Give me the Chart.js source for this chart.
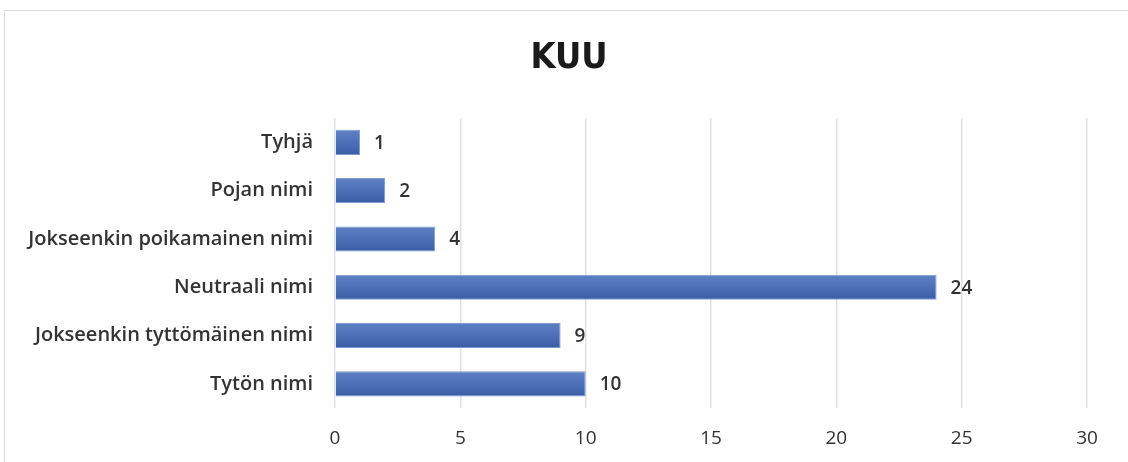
<!DOCTYPE html>
<html>
<head>
<meta charset="utf-8">
<script src="https://cdn.jsdelivr.net/npm/chart.js@4"></script>
<style>
  html, body { margin: 0; padding: 0; background: #fff; }
  #wrap { position: relative; width: 1128px; height: 462px; overflow: hidden; }
  #frame { position: absolute; left: 4px; top: 10px; width: 1140px; height: 470px; border: 1px solid #d9dce1; }
  canvas { position: absolute; left: 0; top: 0; }
</style>
</head>
<body>
<div id="wrap">
  <div id="frame"></div>
  <canvas id="chart" width="1128" height="462"></canvas>
</div>
<script>
const categories = [
  'Tyhjä',
  'Pojan nimi',
  'Jokseenkin poikamainen nimi',
  'Neutraali nimi',
  'Jokseenkin tyttömäinen nimi',
  'Tytön nimi'
];
const counts = [1, 2, 4, 24, 9, 10];
const xTicks = [0, 5, 10, 15, 20, 25, 30];

const textFont = '"Open Sans", "DejaVu Sans", sans-serif';

// gradient per bar: lighter on top, darker below
function barGradient(context) {
  const chart = context.chart;
  const y = chart.scales.y;
  if (!y || context.dataIndex == null) return '#4a6cb5';
  const c = y.getPixelForValue(context.dataIndex);
  if (!isFinite(c)) return '#4a6cb5';
  const g = chart.ctx.createLinearGradient(0, c - 13, 0, c + 13);
  g.addColorStop(0, '#5f82c6');
  g.addColorStop(1, '#3a5ca6');
  return g;
}

// value labels next to the bar ends
const valueLabels = {
  id: 'valueLabels',
  afterDatasetsDraw(chart) {
    const ctx = chart.ctx;
    const meta = chart.getDatasetMeta(0);
    ctx.save();
    ctx.font = '600 19px ' + textFont;
    ctx.fillStyle = '#333';
    ctx.textBaseline = 'middle';
    ctx.textAlign = 'left';
    meta.data.forEach((bar, i) => {
      ctx.fillText(String(counts[i]), bar.x + 14, bar.y + 1);
    });
    ctx.restore();
  }
};

new Chart(document.getElementById('chart'), {
  type: 'bar',
  data: {
    labels: categories,
    datasets: [{
      data: counts,
      backgroundColor: barGradient,
      borderColor: '#7e9bd3',
      borderWidth: 1,
      barPercentage: 0.52,
      categoryPercentage: 1
    }]
  },
  options: {
    indexAxis: 'y',
    responsive: false,
    animation: false,
    layout: { padding: { left: 10, right: 0, top: 0, bottom: 10 } },
    plugins: {
      legend: { display: false },
      tooltip: { enabled: false },
      title: {
        display: true,
        text: 'KUU',
        color: '#1a1a1a',
        font: { family: '"Liberation Sans Narrow", "DejaVu Sans Condensed", sans-serif', size: 36, weight: 'bold' },
        padding: { top: 37, bottom: 38 }
      }
    },
    scales: {
      x: {
        min: 0,
        max: 30,
        afterBuildTicks(scale) { scale.ticks = xTicks.map(v => ({ value: v })); },
        afterFit(scale) { scale.height = 44; },
        grid: { color: '#dde1e7', lineWidth: 1.5, drawTicks: false },
        border: { display: false },
        ticks: { padding: 19, color: '#333', font: { family: textFont, size: 19 } }
      },
      y: {
        afterFit(scale) { scale.width = 325; },
        grid: { display: false, drawTicks: false },
        border: { display: false },
        ticks: { padding: 22, color: '#333', font: { family: textFont, size: 20, weight: 600 } }
      },
      // empty margin on the right side of the plot
      yRight: {
        type: 'category',
        position: 'right',
        afterFit(scale) { scale.width = 41; },
        grid: { display: false, drawTicks: false },
        border: { display: false },
        ticks: { display: false }
      }
    }
  },
  plugins: [valueLabels]
});
</script>
</body>
</html>
